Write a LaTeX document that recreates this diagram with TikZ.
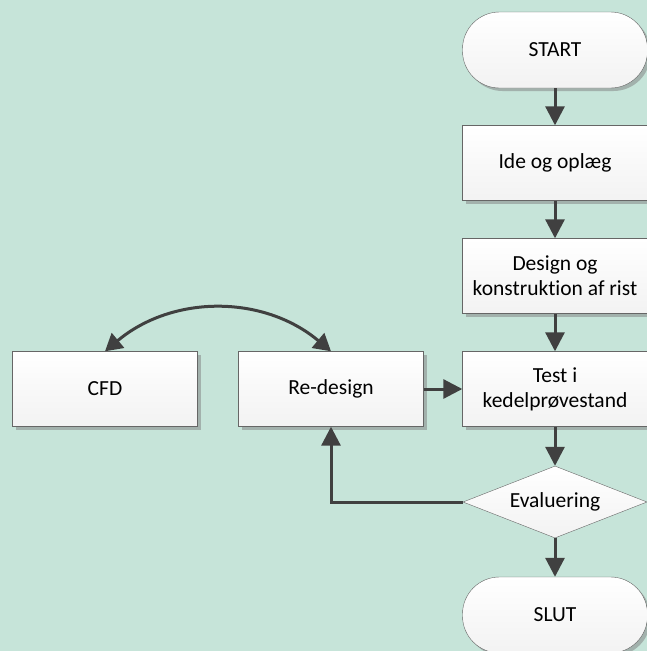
\documentclass[tikz,border=0pt]{standalone}
\usepackage{fontspec}
\setmainfont[Ligatures=NoCommon]{Carlito}
\usetikzlibrary{shapes.geometric,arrows.meta,shadows}
\definecolor{bgmint}{RGB}{198,228,217}
\definecolor{linegray}{RGB}{64,64,64}
\begin{document}
\begin{tikzpicture}[x=1pt, y=1pt, node distance=113pt,
      every node/.style={font=\fontsize{21.5}{25}\selectfont},
      box/.style={draw=gray!80!black, rectangle, minimum width=185pt, minimum height=75pt, align=center, top color=white, bottom color=gray!10,
        drop shadow={shadow xshift=3pt, shadow yshift=-3pt, fill=gray, opacity=.5}},
      term/.style={box, rounded corners=37pt, minimum height=76pt},
      decision/.style={draw=gray!80!black, diamond, aspect=2.5, minimum width=184pt, minimum height=72pt, inner sep=0pt, top color=white, bottom color=gray!10},
      flow/.style={-{Triangle[length=19pt,width=19pt]}, line width=3pt, draw=linegray}]
    \fill[bgmint] (0,0) rectangle (647,-651);
    \useasboundingbox (0,0) rectangle (647,-651);

    \node[term] (start) at (555,-50) {START};
    \node[box, below of=start] (ide) {Ide og oplæg};
    \node[box, below of=ide] (design) {Design og\\ konstruktion af rist};
    \node[box, below of=design] (test) {Test i\\ kedelprøvestand};
    \node[decision, below of=test] (eval) {Evaluering};
    \node[term, below of=eval] (slut) {SLUT};
    \node[box, left of=test, node distance=224pt] (redesign) {Re-design};
    \node[box, left of=redesign, node distance=226pt] (cfd) {CFD};

    \draw[flow] (start) -- (ide);
    \draw[flow] (ide) -- (design);
    \draw[flow] (design) -- (test);
    \draw[flow] (test) -- (eval);
    \draw[flow] (eval) -- (slut);
    \draw[flow] (redesign) -- (test);
    \draw[flow] (eval.west) -| (redesign.south);
    \draw[flow, {Triangle[length=17pt,width=19pt]}-{Triangle[length=17pt,width=19pt]}] (cfd.north) to[bend left=40] (redesign.north);
  \end{tikzpicture}
\end{document}
